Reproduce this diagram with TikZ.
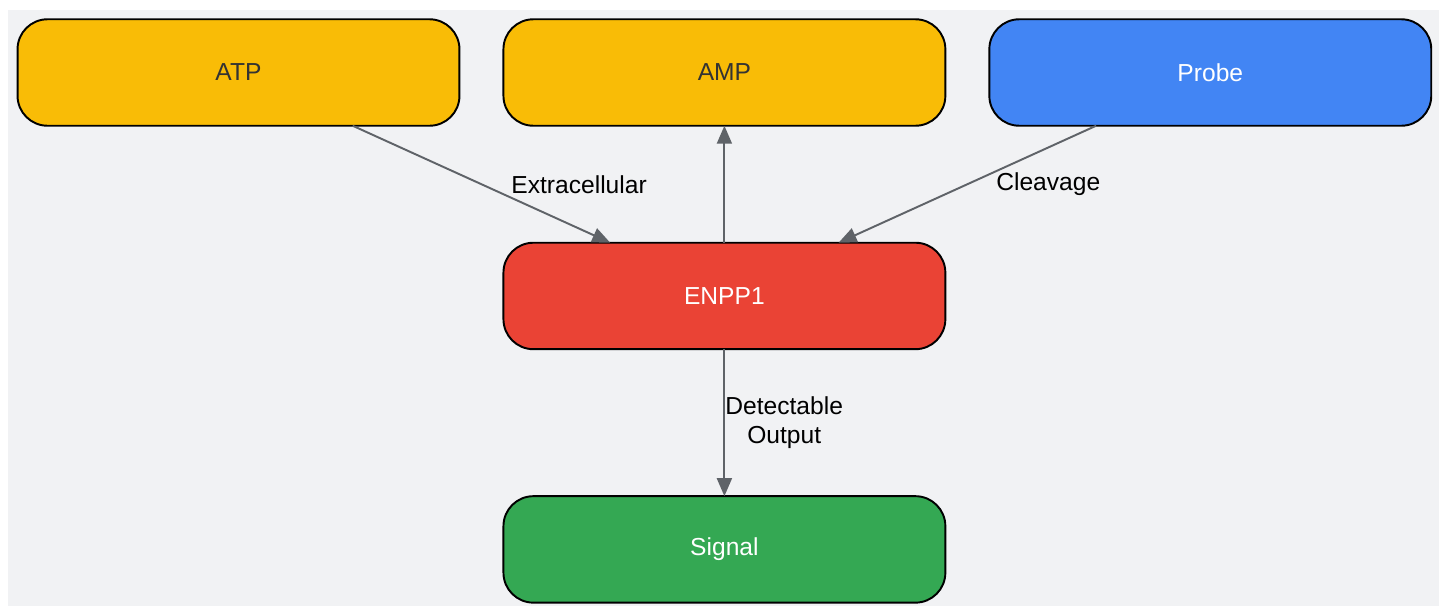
\documentclass[tikz,border=0pt]{standalone}
\usepackage{fontspec}
\setmainfont{Liberation Sans}
\usepackage{xcolor}
\usepackage{tikz}
\usetikzlibrary{arrows.meta,positioning,calc}
\definecolor{bgGray}{HTML}{F1F2F4}
\definecolor{gYellow}{HTML}{F9BC06}
\definecolor{gBlue}{HTML}{4285F4}
\definecolor{gRed}{HTML}{EA4335}
\definecolor{gGreen}{HTML}{34A853}
\definecolor{arrGray}{HTML}{5F6368}
\definecolor{txtDark}{HTML}{333333}

\begin{document}
\begin{tikzpicture}[x=0.02cm, y=-0.02cm, node distance=0.88cm, >={Triangle[length=0.36cm,width=0.3cm]}, font=\fontsize{14}{17}\selectfont]
\tikzstyle{box}=[draw=black, line width=1.1pt, rounded corners=0.6cm, minimum width=8.84cm, minimum height=2.13cm, inner sep=0pt, outer sep=0pt]
\tikzstyle{flow}=[->, draw=arrGray, line width=1.1pt]
\tikzstyle{lbl}=[anchor=west, text=black, align=center, inner sep=0pt]
\useasboundingbox (0,0) rectangle (1445,606);
\fill[bgGray] (8,10) rectangle (1439,606);

\node[box, fill=gYellow, text=txtDark] (atp) at (238.5,72.5) {ATP};
\node[box, fill=gYellow, text=txtDark, right=of atp] (amp) {AMP};
\node[box, fill=gBlue, text=white, right=of amp] (probe) {Probe};
\node[box, fill=gRed, text=white, below=2.34cm of amp] (enpp) {ENPP1};
\node[box, fill=gGreen, text=white, below=2.94cm of enpp] (signal) {Signal};

\draw[flow] (atp.-25) -- node[lbl, xshift=0.58cm]{Extracellular} (enpp.155);
\draw[flow] (enpp) -- (amp);
\draw[flow] (probe.205) -- node[lbl, xshift=0.56cm]{Cleavage} (enpp.25);
\draw[flow] (enpp) -- node[lbl]{Detectable\\Output} (signal);
\end{tikzpicture}
\end{document}
